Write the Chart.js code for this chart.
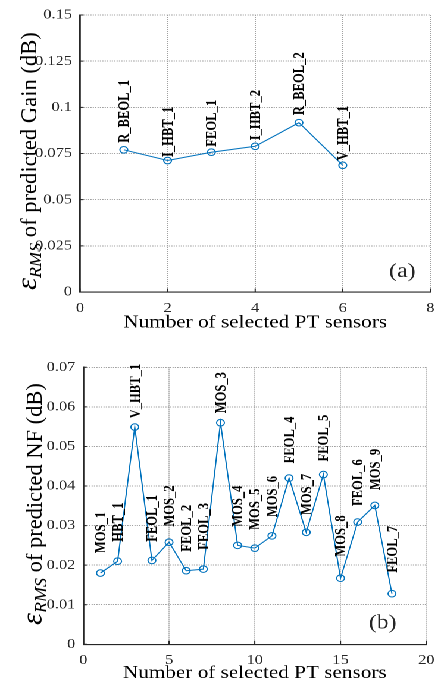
<!DOCTYPE html>
<html>
<head>
<meta charset="utf-8">
<script src="https://cdn.jsdelivr.net/npm/chart.js@4.4.1/dist/chart.umd.min.js"></script>
<style>
  html, body { margin: 0; padding: 0; background: #fff; overflow: hidden; }
  /* the original figure is stretched sideways, so draw narrow and widen */
  #page { width: 373px; transform: scaleX(1.1903); transform-origin: 0 0; }
  .panel { position: relative; width: 373px; height: 342px; }
</style>
</head>
<body>
<div id="page">
  <div class="panel"><canvas id="gainChart"></canvas></div>
  <div class="panel"><canvas id="nfChart"></canvas></div>
</div>
<script>
// (a) gain
const gainSensors = [1, 2, 3, 4, 5, 6];
const gainRms = [0.0770, 0.0712, 0.0757, 0.0789, 0.0917, 0.0686];
const gainNames = ['R_BEOL_1', 'I_HBT_1', 'FEOL_1', 'I_HBT_2', 'R_BEOL_2', 'V_HBT_1'];
const gainXTicks = [0, 2, 4, 6, 8];
const gainYTicks = [0, 0.025, 0.05, 0.075, 0.1, 0.125, 0.15];

// (b) noise figure
const nfSensors = [1, 2, 3, 4, 5, 6, 7, 8, 9, 10, 11, 12, 13, 14, 15, 16, 17, 18];
const nfRms = [0.0180, 0.0210, 0.0549, 0.0212, 0.0258, 0.0186, 0.0190, 0.0560, 0.0250,
               0.0243, 0.0274, 0.0420, 0.0283, 0.0429, 0.0167, 0.0309, 0.0351, 0.0128];
const nfNames = ['MOS_1', 'HBT_1', 'V_HBT_1', 'FEOL_1', 'MOS_2', 'FEOL_2', 'FEOL_3', 'MOS_3', 'MOS_4',
                 'MOS_5', 'MOS_6', 'FEOL_4', 'MOS_7', 'FEOL_5', 'MOS_8', 'FEOL_6', 'MOS_9', 'FEOL_7'];
const nfXTicks = [0, 5, 10, 15, 20];
const nfYTicks = [0, 0.01, 0.02, 0.03, 0.04, 0.05, 0.06, 0.07];

const xTitle = 'Number of selected PT sensors';
const gainYTitle = ' of predicted Gain (dB)';
const nfYTitle = ' of predicted NF (dB)';

const STRETCH = 1.1903;
const SERIF = "'Liberation Serif', 'Times New Roman', serif";
const AXIS_COLOR = '#262626';
const LINE_BLUE = '#0072BD';

Chart.defaults.font.family = SERIF;
Chart.defaults.color = AXIS_COLOR;

// pick font sizes so text spans the same length as in the figure
const measureCtx = document.createElement('canvas').getContext('2d');
function fitSize(text, style, target) {
    measureCtx.font = style + ' 100px ' + SERIF;
    return 100 * target / measureCtx.measureText(text).width;
}
const tickSize = fitSize('0.125', '', 37 / STRETCH);
const xTitleSize = fitSize(xTitle, '', 264 / STRETCH);
const labelSize = fitSize('R_BEOL_1', 'bold', 63);

const fmt = v => String(+v.toFixed(4));

// sensor names, inward ticks, panel tag and the epsilon_RMS axis title
function overlayPlugin(cfg) {
    return {
        id: 'overlay',
        afterDatasetsDraw(chart) {
            const ctx = chart.ctx;
            const area = chart.chartArea;
            const sx = chart.scales.x, sy = chart.scales.y;
            const pts = chart.getDatasetMeta(0).data;
            ctx.save();

            ctx.strokeStyle = AXIS_COLOR;
            ctx.lineWidth = 1;
            ctx.beginPath();
            cfg.xTicks.forEach(v => {
                const px = sx.getPixelForValue(v);
                ctx.moveTo(px, area.bottom);
                ctx.lineTo(px, area.bottom - 3.5);
            });
            cfg.yTicks.forEach(v => {
                const py = sy.getPixelForValue(v);
                ctx.moveTo(area.left, py);
                ctx.lineTo(area.left + 3.5 / STRETCH, py);
            });
            ctx.stroke();

            ctx.fillStyle = '#000';
            ctx.font = 'bold ' + labelSize + 'px ' + SERIF;
            ctx.textAlign = 'left';
            ctx.textBaseline = 'middle';
            pts.forEach((p, i) => {
                ctx.save();
                ctx.translate(p.x + 0.8, p.y - cfg.gaps[i]);
                ctx.rotate(-Math.PI / 2);
                ctx.fillText(cfg.names[i], 0, 0);
                ctx.restore();
            });

            ctx.font = '20px ' + SERIF;
            ctx.textAlign = 'center';
            ctx.fillStyle = AXIS_COLOR;
            ctx.fillText(cfg.tag, sx.getPixelForValue(cfg.tagAt[0]), sy.getPixelForValue(cfg.tagAt[1]));

            // y title: italic epsilon with RMS subscript, then plain text
            const parts = [
                { t: '\u03B5', s: 'italic', k: 1.35, dy: 0 },
                { t: 'RMS', s: 'italic', k: 0.8, dy: 0.22 },
                { t: cfg.yTitle, s: '', k: 1, dy: 0 }
            ];
            let w100 = 0;
            parts.forEach(p => {
                measureCtx.font = p.s + ' ' + (100 * p.k) + 'px ' + SERIF;
                w100 += measureCtx.measureText(p.t).width;
            });
            const base = 100 * cfg.titleLen / w100;
            ctx.fillStyle = '#000';
            ctx.translate(cfg.titleX, cfg.titleBottom);
            ctx.scale(1 / STRETCH, 1);
            ctx.rotate(-Math.PI / 2);
            ctx.textAlign = 'left';
            ctx.textBaseline = 'alphabetic';
            let pos = 0;
            parts.forEach(p => {
                ctx.font = p.s + ' ' + (base * p.k) + 'px ' + SERIF;
                ctx.fillText(p.t, pos, p.dy * base);
                pos += ctx.measureText(p.t).width;
            });
            ctx.restore();
        }
    };
}

/**
 * Build one sensor panel
 */
function createSensorChart(canvas, cfg) {
    const H = 342, W = 373;
    const titlePad = H - cfg.xTitleMid - xTitleSize * 0.6;
    return new Chart(canvas, {
        type: 'line',
        data: {
            datasets: [{
                data: cfg.xs.map((x, i) => ({ x: x, y: cfg.ys[i] })),
                borderColor: LINE_BLUE,
                borderWidth: 1,
                pointRadius: 3.3,
                pointBorderWidth: 1,
                pointBorderColor: LINE_BLUE,
                pointBackgroundColor: 'rgba(0,0,0,0)',
                tension: 0
            }]
        },
        options: {
            responsive: true,
            maintainAspectRatio: false,
            animation: false,
            devicePixelRatio: 2,
            layout: { padding: { left: 0, top: cfg.top, right: W - cfg.right, bottom: 0 } },
            plugins: {
                legend: { display: false },
                tooltip: { enabled: false }
            },
            scales: {
                x: {
                    type: 'linear',
                    min: cfg.xTicks[0],
                    max: cfg.xTicks[cfg.xTicks.length - 1],
                    afterBuildTicks: s => { s.ticks = cfg.xTicks.map(v => ({ value: v })); },
                    afterFit: s => { s.height = H - cfg.bottom; },
                    grid: { color: '#a0a0a0', lineWidth: 1, drawTicks: false },
                    border: { color: AXIS_COLOR, width: 1.1, dash: [1, 1] },
                    ticks: { padding: 8, maxRotation: 0, font: { size: tickSize }, color: AXIS_COLOR, callback: fmt },
                    title: {
                        display: true, text: xTitle, color: '#000',
                        font: { size: xTitleSize }, padding: { top: 0, bottom: titlePad }
                    }
                },
                y: {
                    min: cfg.yTicks[0],
                    max: cfg.yTicks[cfg.yTicks.length - 1],
                    afterBuildTicks: s => { s.ticks = cfg.yTicks.map(v => ({ value: v })); },
                    afterFit: s => { s.width = cfg.left; },
                    grid: { color: '#a0a0a0', lineWidth: 1, drawTicks: false },
                    border: { color: AXIS_COLOR, width: 1.4, dash: [1, 1] },
                    ticks: { padding: 6.7, font: { size: tickSize }, color: AXIS_COLOR, callback: fmt }
                }
            }
        },
        plugins: [overlayPlugin(cfg)]
    });
}

createSensorChart(document.getElementById('gainChart'), {
    xs: gainSensors, ys: gainRms, names: gainNames,
    xTicks: gainXTicks, yTicks: gainYTicks, yTitle: gainYTitle,
    left: 67.2, right: 362.9, top: 15, bottom: 292,
    xTitleMid: 323,
    gaps: [7, 3.5, 5.5, 6, 7.5, 5],
    tag: '(a)', tagAt: [7.36, 0.011],
    titleX: 30.3, titleBottom: 290, titleLen: 258
});

createSensorChart(document.getElementById('nfChart'), {
    xs: nfSensors, ys: nfRms, names: nfNames,
    xTicks: nfXTicks, yTicks: nfYTicks, yTitle: nfYTitle,
    left: 70.0, right: 366.3, top: 25.3, bottom: 302.3,
    xTitleMid: 331.3,
    gaps: [20, 19.5, 8.7, 18.6, 15.6, 19, 19.3, 9.4, 18.6, 18.3, 18.7, 14.7, 17.3, 13, 21.6, 16, 15.3, 21],
    tag: '(b)', tagAt: [17.46, 0.0053],
    titleX: 35, titleBottom: 283, titleLen: 242
});
</script>
</body>
</html>
